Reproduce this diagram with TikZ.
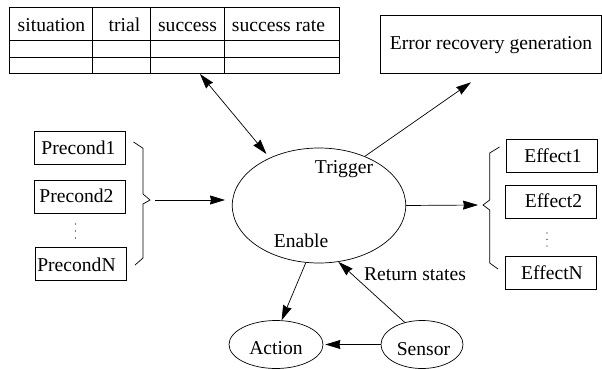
\documentclass[tikz,border=0pt]{standalone}
\usepackage{fontspec}
\setmainfont{Liberation Serif}
\usetikzlibrary{arrows.meta,shapes.geometric,calc}
\tikzset{
  box/.style={draw,rectangle,inner sep=0pt,anchor=center},
  oval/.style={draw,ellipse,inner sep=0pt},
  lbl/.style={inner sep=0pt,anchor=base,font=\fontsize{19.6}{22}\selectfont},
  conn/.style={line width=0.7pt,-{Stealth[length=15pt,width=9pt,inset=1pt]}},
  both/.style={line width=0.7pt,{Stealth[length=15pt,width=9pt,inset=1pt]}-{Stealth[length=15pt,width=9pt,inset=1pt]}},
  dotmark/.style={fill=black,draw=none}
}
\begin{document}
\begin{tikzpicture}[x=1pt,y=-1pt,line width=0.7pt]
\useasboundingbox (0,0) rectangle (602,369);
% table
\node[box,minimum width=330pt,minimum height=65.5pt] (tbl) at (174.5,40.25) {};
\draw (9.5,40.5) -- (339.5,40.5) (9.5,57) -- (339.5,57);
\draw (92,7.5) -- (92,73) (150,7.5) -- (150,73) (224,7.5) -- (224,73);
\node[lbl] (h1) at (51.5,32) {situation};
\node[lbl] (h2) at (124.5,32) {trial};
\node[lbl] (h3) at (187.5,32) {success};
\node[lbl] (h4) at (278.5,32) {success rate};
% error box
\node[box,minimum width=220.5pt,minimum height=57.5pt] (err) at (490.75,44.25) {};
\node[lbl] (errt) at (491,49) {Error recovery generation};
% preconditions
\node[box,minimum width=91pt,minimum height=33pt] (p1) at (80,147.5) {};
\node[box,minimum width=91pt,minimum height=33pt] (p2) at (80,197) {};
\node[box,minimum width=91pt,minimum height=33pt] (pn) at (80.5,264) {};
\node[lbl] (p1t) at (78.5,154) {Precond1};
\node[lbl] (p2t) at (76.5,202.5) {Precond2};
\node[lbl] (pnt) at (76.5,271) {PrecondN};
\foreach \yy in {224,231,238} \fill[dotmark] (75.5,\yy) circle (0.6pt);
% left brace
\draw (133.5,142) -- (143,148.3) -- (143,194) -- (150,200) -- (143,204) -- (143,258) -- (135,265);
\coordinate (bl) at (155,200);
% effects
\node[box,minimum width=90.5pt,minimum height=33pt] (e1) at (551.75,156) {};
\node[box,minimum width=90.5pt,minimum height=33pt] (e2) at (550.75,201.5) {};
\node[box,minimum width=90.5pt,minimum height=33pt] (en) at (550.75,272.5) {};
\node[lbl] (e1t) at (553,162) {Effect1};
\node[lbl] (e2t) at (553.5,207) {Effect2};
\node[lbl] (ent) at (552,279) {EffectN};
\foreach \yy in {233,239.5,246} \fill[dotmark] (547,\yy) circle (0.6pt);
% right brace
\draw (499.5,147) -- (489.7,153) -- (489.7,200) -- (483,205) -- (489.7,210) -- (489.7,263) -- (498,269);
\coordinate (br) at (478,205);
% ellipses
\node[oval,minimum width=173.5pt,minimum height=115pt] (big) at (319,205.5) {};
\node[oval,minimum width=94pt,minimum height=48pt] (act) at (276,344.5) {};
\node[oval,minimum width=82pt,minimum height=48pt] (sen) at (422,344.5) {};
\node[lbl] (actt) at (276,354) {Action};
\node[lbl] (sent) at (423.5,355) {Sensor};
\node[lbl] (trig) at (344,173) {Trigger};
\node[lbl] (enab) at (301,247) {Enable};
\node[lbl] (ret) at (415,280) {Return states};
% connectors
\coordinate (tf) at (200,74);
\coordinate (ef) at (471,82.3);
\draw[both,shorten >=5pt] (tf) -- (big.136);
\draw[conn] (big.47) -- (ef);
\draw[conn] (bl) -- (225,200);
\draw[conn] (big.east) -- (br);
\draw[conn] (big.257) -- (act.77);
\draw[conn] (sen.128) -- (big.289);
\draw[conn,shorten >=2pt] (sen.west) -- (act.east);
\end{tikzpicture}
\end{document}
